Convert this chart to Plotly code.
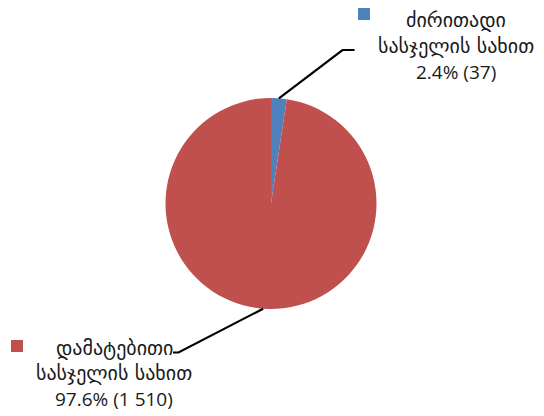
import math
import plotly.graph_objects as go

# Data
categories = ["ძირითადი სასჯელის სახით", "დამატებითი სასჯელის სახით"]
label_lines = [["ძირითადი", "სასჯელის სახით"], ["დამატებითი", "სასჯელის სახით"]]
counts = [37, 1510]
colors = ["#4F81BD", "#C0504D"]

W, H = 544, 416
cx, cy, r = 271.0, 203.5, 105.5  # pie centre / radius in pixels (from top-left)

def px(x):
    return x / W

def py(y):
    return 1 - y / H

total = sum(counts)
shares = [c / total for c in counts]

fig = go.Figure(go.Pie(
    labels=categories,
    values=counts,
    marker=dict(colors=colors, line=dict(width=0)),
    sort=False,
    direction="clockwise",
    rotation=0,
    textinfo="none",
    hoverinfo="label+value+percent",
    showlegend=False,
    domain=dict(x=[px(cx - r), px(cx + r)], y=[py(cy + r), py(cy - r)]),
))

# Label placement: (elbow, line end, legend square centre, text centre x, line y's)
label_layout = [
    dict(elbow=(342.5, 50), end=(354.5, 50), square=(364, 14), tx=456, ty=[20, 46, 72]),
    dict(elbow=(178.5, 352.5), end=(173, 352.5), square=(17, 346), tx=114, ty=[348, 373, 399]),
]

shapes = []
annotations = []
start = 0.0
for i, (share, cnt) in enumerate(zip(shares, counts)):
    mid = (start + share / 2) * 2 * math.pi  # clockwise from 12 o'clock
    start += share
    ex, ey = cx + r * math.sin(mid), cy - r * math.cos(mid)
    lay = label_layout[i]
    (bx, by), (fx, fy) = lay["elbow"], lay["end"]
    shapes.append(dict(
        type="path", xref="paper", yref="paper",
        path=f"M {px(ex)} {py(ey)} L {px(bx)} {py(by)} L {px(fx)} {py(fy)}",
        line=dict(color="black", width=2.2),
    ))
    sx, sy = lay["square"]
    shapes.append(dict(
        type="rect", xref="paper", yref="paper",
        x0=px(sx - 6), x1=px(sx + 6), y0=py(sy + 6), y1=py(sy - 6),
        fillcolor=colors[i], line=dict(width=0),
    ))
    pct = f"{share * 100:.1f}%"
    cnt_txt = f"{cnt:,}".replace(",", " ")
    lines = label_lines[i] + [f"{pct} ({cnt_txt})"]
    for j, txt in enumerate(lines):
        fam, size = ("DejaVu Sans", 20) if j < 2 else ("Open Sans", 19)
        annotations.append(dict(
            x=px(lay["tx"]), y=py(lay["ty"][j]), xref="paper", yref="paper",
            text=txt, showarrow=False, xanchor="center", yanchor="middle",
            font=dict(family=fam, size=size, color="#1a1a1a"),
        ))

fig.update_layout(
    width=W, height=H,
    margin=dict(l=0, r=0, t=0, b=0),
    paper_bgcolor="white",
    plot_bgcolor="white",
    shapes=shapes,
    annotations=annotations,
)

fig.write_html("out.html")
